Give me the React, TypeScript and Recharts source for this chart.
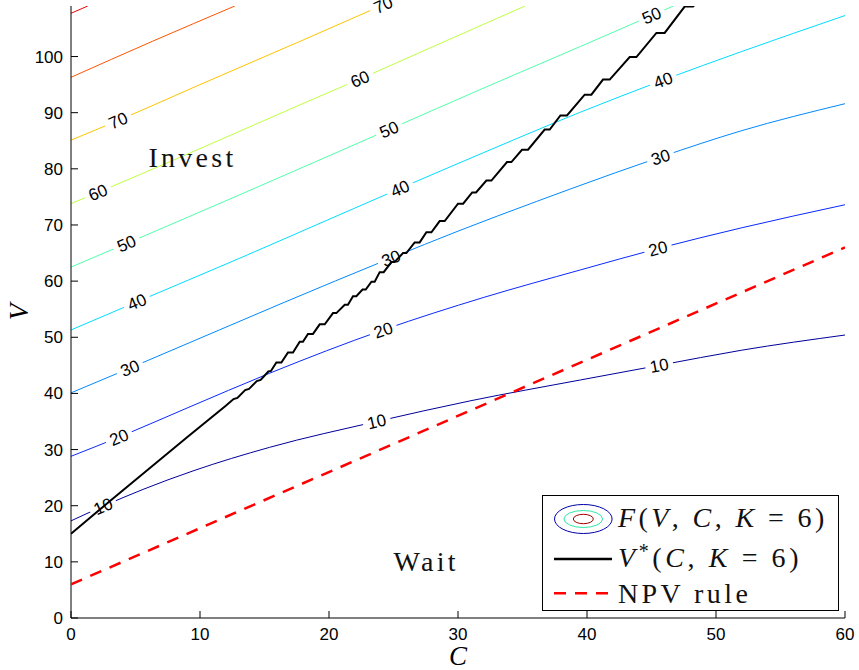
import React from 'react';
import { LineChart, Line, XAxis, YAxis, ReferenceDot, Legend } from 'recharts';

// ---------- data ----------
const C_TICKS = [0, 10, 20, 30, 40, 50, 60];
const V_TICKS = [0, 10, 20, 30, 40, 50, 60, 70, 80, 90, 100];
const X_MAX = 60;
const Y_MAX = 109;

const F10 = [
  { c: 0, v: 17.3 }, { c: 2.48, v: 19.9 }, { c: 5.58, v: 22.9 }, { c: 9.46, v: 26.2 },
  { c: 15.4, v: 30.4 }, { c: 23.7, v: 35.0 }, { c: 31, v: 38.7 }, { c: 39.5, v: 42.4 },
  { c: 45.6, v: 45.0 }, { c: 52, v: 47.7 }, { c: 60, v: 50.4 },
];
const F20 = [
  { c: 0, v: 28.8 }, { c: 3.71, v: 32.2 }, { c: 9, v: 37.4 }, { c: 15.4, v: 43.6 },
  { c: 24.2, v: 51.3 }, { c: 32, v: 57.1 }, { c: 39.5, v: 62.0 }, { c: 45.5, v: 65.8 },
  { c: 52, v: 69.5 }, { c: 60, v: 73.6 },
];
const F30 = [
  { c: 0, v: 40.1 }, { c: 4.56, v: 44.5 }, { c: 11.5, v: 51.3 }, { c: 16.2, v: 55.9 },
  { c: 24.8, v: 64.1 }, { c: 30, v: 68.9 }, { c: 36.1, v: 74.2 }, { c: 38.7, v: 76.4 },
  { c: 45.7, v: 82.1 }, { c: 52, v: 86.8 }, { c: 60, v: 91.6 },
];
const F40 = [
  { c: 0, v: 51.3 }, { c: 5.1, v: 56.3 }, { c: 13.1, v: 64.1 }, { c: 19.9, v: 70.9 },
  { c: 25.5, v: 76.5 }, { c: 32, v: 82.9 }, { c: 39.5, v: 90.1 }, { c: 45.9, v: 95.8 },
  { c: 52, v: 100.9 }, { c: 60, v: 107.3 },
];
const F50 = [
  { c: 0, v: 62.5 }, { c: 4.3, v: 66.7 }, { c: 13.1, v: 75.4 }, { c: 24.65, v: 87.0 },
  { c: 32, v: 94.4 }, { c: 39.5, v: 101.8 }, { c: 45.0, v: 107.3 }, { c: 46.7, v: 109.0 },
];
const F60 = [
  { c: 0, v: 73.8 }, { c: 2.09, v: 75.8 }, { c: 10, v: 83.6 }, { c: 17.75, v: 91.4 },
  { c: 22.4, v: 96.0 }, { c: 27.8, v: 101.5 }, { c: 35.2, v: 109.0 },
];
const F70 = [
  { c: 0, v: 85.1 }, { c: 3.65, v: 88.6 }, { c: 10, v: 95.0 }, { c: 17.75, v: 102.7 },
  { c: 24.0, v: 109.0 },
];
const F80 = [{ c: 0, v: 96.3 }, { c: 6.3, v: 102.7 }, { c: 12.7, v: 109.0 }];
const F90 = [{ c: 0, v: 107.7 }, { c: 1.3, v: 109.0 }];

const CONTOURS = [
  { level: 10, pts: F10 }, { level: 20, pts: F20 }, { level: 30, pts: F30 },
  { level: 40, pts: F40 }, { level: 50, pts: F50 }, { level: 60, pts: F60 },
  { level: 70, pts: F70 }, { level: 80, pts: F80 }, { level: 90, pts: F90 },
];

const CONTOUR_LABELS = [
  { level: 10, c: 2.48, v: 19.9 }, { level: 10, c: 23.7, v: 35.0 }, { level: 10, c: 45.6, v: 45.0 },
  { level: 20, c: 3.71, v: 32.2 }, { level: 20, c: 24.2, v: 51.3 }, { level: 20, c: 45.5, v: 65.8 },
  { level: 30, c: 4.56, v: 44.5 }, { level: 30, c: 24.8, v: 64.1 }, { level: 30, c: 45.7, v: 82.1 },
  { level: 40, c: 5.1, v: 56.3 }, { level: 40, c: 25.5, v: 76.5 }, { level: 40, c: 45.9, v: 95.8 },
  { level: 50, c: 4.3, v: 66.7 }, { level: 50, c: 24.65, v: 87.0 }, { level: 50, c: 45.0, v: 107.3 },
  { level: 60, c: 2.09, v: 75.8 }, { level: 60, c: 22.4, v: 96.0 },
  { level: 70, c: 3.65, v: 88.6 }, { level: 70, c: 24.2, v: 109.2 },
];

const VSTAR = [
  { c: 0, v: 15.0 }, { c: 3.0, v: 20.8 }, { c: 6.0, v: 26.5 }, { c: 9.0, v: 32.2 },
  { c: 12.0, v: 37.8 }, { c: 12.6, v: 39.0 }, { c: 12.9, v: 39.2 }, { c: 13.5, v: 40.6 },
  { c: 13.8, v: 40.8 }, { c: 14.4, v: 42.2 }, { c: 14.7, v: 42.4 }, { c: 15.3, v: 43.9 },
  { c: 15.5, v: 44.0 },
  { c: 15.92, v: 45.5 }, { c: 16.31, v: 45.5 }, { c: 16.82, v: 47.3 }, { c: 17.21, v: 47.3 },
  { c: 17.73, v: 49.2 }, { c: 17.98, v: 49.2 }, { c: 18.37, v: 50.6 }, { c: 18.76, v: 50.6 },
  { c: 19.28, v: 52.3 }, { c: 19.67, v: 52.3 }, { c: 20.31, v: 54.3 }, { c: 20.57, v: 54.3 },
  { c: 21.22, v: 55.8 }, { c: 21.47, v: 55.8 }, { c: 21.86, v: 57.3 }, { c: 22.12, v: 57.3 },
  { c: 22.6, v: 58.5 }, { c: 22.85, v: 58.5 }, { c: 23.29, v: 59.9 }, { c: 23.54, v: 59.9 },
  { c: 23.93, v: 61.6 }, { c: 24.24, v: 61.6 }, { c: 24.84, v: 63.4 }, { c: 25.09, v: 63.4 },
  { c: 25.74, v: 65.0 }, { c: 26.0, v: 65.0 }, { c: 26.64, v: 66.9 }, { c: 27.03, v: 66.9 },
  { c: 27.55, v: 68.7 }, { c: 27.94, v: 68.7 }, { c: 28.58, v: 70.7 }, { c: 28.97, v: 70.7 },
  { c: 30.0, v: 73.8 }, { c: 30.4, v: 73.8 }, { c: 31.1, v: 75.8 }, { c: 31.4, v: 75.8 },
  { c: 32.2, v: 77.9 }, { c: 32.59, v: 77.9 }, { c: 33.8, v: 81.2 }, { c: 34.14, v: 81.2 },
  { c: 34.96, v: 83.4 }, { c: 35.43, v: 83.4 }, { c: 36.72, v: 87.0 }, { c: 37.11, v: 87.0 },
  { c: 37.94, v: 89.5 }, { c: 38.45, v: 89.5 }, { c: 39.82, v: 93.2 }, { c: 40.34, v: 93.2 },
  { c: 41.24, v: 95.9 }, { c: 41.76, v: 95.9 }, { c: 43.31, v: 99.9 }, { c: 43.83, v: 99.9 },
  { c: 45.38, v: 104.2 }, { c: 46.02, v: 104.2 }, { c: 47.57, v: 108.9 }, { c: 48.22, v: 108.9 },
  { c: 48.5, v: 109.6 },
];

const NPV = [{ c: 0, v: 6 }, { c: 60, v: 66 }];

const REGION_TEXT = [
  { text: 'Invest', c: 6, v: 82 },
  { text: 'Wait', c: 25, v: 10 },
];

// ---------- styles ----------
const CHART_W = 859;
const CHART_H = 670;
const MARGIN = { top: 6, right: 14, bottom: 0, left: 0 };
const Y_AXIS_W = 71;
const X_AXIS_H = 52;
const PLOT_W = CHART_W - MARGIN.left - MARGIN.right - Y_AXIS_W;
const PLOT_H = CHART_H - MARGIN.top - MARGIN.bottom - X_AXIS_H;

const LEVEL_COLORS: Record<number, string> = {
  10: '#00009a', 20: '#0a28ff', 30: '#0088ff', 40: '#00dcff', 50: '#50ffaa',
  60: '#bfff40', 70: '#ffc400', 80: '#ff5400', 90: '#f00000',
};

const SANS = "'Liberation Sans', Arial, Helvetica, sans-serif";
const SERIF = "'Liberation Serif', 'Times New Roman', serif";
const TICK_LEN = 7;

function contourAt(pts: { c: number; v: number }[], c: number) {
  let i = 0;
  while (i < pts.length - 2 && c > pts[i + 1].c) i++;
  const a = pts[i], b = pts[i + 1];
  return a.v + ((b.v - a.v) * (c - a.c)) / (b.c - a.c);
}

function labelAngle(level: number, c: number) {
  const pts = CONTOURS.find((k) => k.level === level)!.pts;
  const slope = (contourAt(pts, c + 0.8) - contourAt(pts, c - 0.8)) / 1.6;
  const px = slope * (PLOT_H / Y_MAX) / (PLOT_W / X_MAX);
  return (-Math.atan(px) * 180) / Math.PI;
}

const BottomTick = (p: any) => (
  <g>
    <line x1={p.x} y1={p.y} x2={p.x} y2={p.y - TICK_LEN} stroke="#000" strokeWidth={1} />
    <text x={p.x} y={p.y + 22} textAnchor="middle" fontFamily={SANS} fontSize={17} fill="#000">
      {p.payload.value}
    </text>
  </g>
);
const LeftTick = (p: any) => (
  <g>
    <line x1={p.x} y1={p.y} x2={p.x + TICK_LEN} y2={p.y} stroke="#000" strokeWidth={1} />
    <text x={p.x - 8} y={p.y + 6} textAnchor="end" fontFamily={SANS} fontSize={17} fill="#000">
      {p.payload.value}
    </text>
  </g>
);
const TopTick = (p: any) => (
  <line x1={p.x} y1={p.y} x2={p.x} y2={p.y + TICK_LEN} stroke="#000" strokeWidth={1} />
);
const RightTick = (p: any) => (
  <line x1={p.x} y1={p.y} x2={p.x - TICK_LEN} y2={p.y} stroke="#000" strokeWidth={1} />
);

const XLabel = (props: any) => {
  const vb = props.viewBox || { x: 71, y: 618, width: 774 };
  return (
    <text x={vb.x + vb.width / 2} y={vb.y + 47} textAnchor="middle" fontFamily={SERIF}
      fontStyle="italic" fontSize={27} fill="#000">C</text>
  );
};
const YLabel = (props: any) => {
  const vb = props.viewBox || { x: 0, y: 6, height: 612 };
  const cx = 28;
  const cy = vb.y + vb.height / 2;
  return (
    <text x={cx} y={cy} transform={`rotate(-90, ${cx}, ${cy})`} textAnchor="middle"
      fontFamily={SERIF} fontStyle="italic" fontSize={27} fill="#000">V</text>
  );
};

const makeLabelShape = (level: number, c: number) => (p: any) => {
  const ang = labelAngle(level, c);
  return (
    <g transform={`translate(${p.cx},${p.cy}) rotate(${ang})`}>
      <rect x={-14} y={-7} width={28} height={14} fill="#fff" />
      <text x={0} y={6} textAnchor="middle" fontFamily={SANS} fontSize={17} fill="#000">
        {level}
      </text>
    </g>
  );
};

const makeRegionShape = (text: string) => (p: any) => (
  <text x={p.cx} y={p.cy + 9} textAnchor="start" fontFamily={SERIF} fontSize={28}
    letterSpacing={3.3} fill="#111">{text}</text>
);

const it = (s: string) => <tspan fontStyle="italic">{s}</tspan>;

const LegendBox = () => (
  <svg width={298} height={117} style={{ display: 'block' }}>
    <rect x={0.5} y={0.5} width={296} height={115} fill="#fff" stroke="#000" strokeWidth={1} />
    <ellipse cx={41.3} cy={24} rx={28.8} ry={14.5} fill="none" stroke="#0000a8" strokeWidth={1} />
    <ellipse cx={41.3} cy={24} rx={19.3} ry={8.5} fill="none" stroke="#30e8a8" strokeWidth={1} />
    <ellipse cx={41.3} cy={24} rx={10} ry={4.7} fill="none" stroke="#a00000" strokeWidth={1} />
    <text x={76} y={32} fontFamily={SERIF} fontSize={28} letterSpacing={3.4} fill="#111">
      {it('F')}{'('}{it('V')}{', '}{it('C')}{', '}{it('K')}{' = 6)'}
    </text>
    <line x1={12} y1={64} x2={70} y2={64} stroke="#000" strokeWidth={2.5} />
    <text x={76} y={72} fontFamily={SERIF} fontSize={28} letterSpacing={3.6} fill="#111">
      {it('V')}<tspan dy={-9} fontSize={20}>*</tspan><tspan dy={9}>{'('}</tspan>{it('C')}{', '}{it('K')}{' = 6)'}
    </text>
    <line x1={12} y1={98.3} x2={66} y2={98.3} stroke="#ff0000" strokeWidth={2.5} strokeDasharray="12 9" />
    <text x={76} y={108} fontFamily={SERIF} fontSize={28} letterSpacing={3.4} fill="#111">NPV rule</text>
  </svg>
);

export default function App() {
  return (
    <div style={{ position: 'absolute', left: 0, top: 0, width: CHART_W, height: CHART_H, background: '#fff' }}>
      <LineChart width={CHART_W} height={CHART_H} margin={MARGIN}>
        <XAxis dataKey="c" type="number" domain={[0, X_MAX]} ticks={C_TICKS} allowDataOverflow
          height={X_AXIS_H} tickSize={0} tickMargin={0} tickLine={false} tick={BottomTick}
          axisLine={{ stroke: '#000', strokeWidth: 1 }} interval={0} label={<XLabel />} />
        <XAxis xAxisId="top" orientation="top" dataKey="c" type="number" domain={[0, X_MAX]}
          ticks={C_TICKS} allowDataOverflow height={0} tickSize={0} tickMargin={0} tickLine={false}
          tick={TopTick} axisLine={{ stroke: '#000', strokeWidth: 1 }} interval={0} />
        <YAxis type="number" domain={[0, Y_MAX]} ticks={V_TICKS} allowDataOverflow width={Y_AXIS_W}
          tickSize={0} tickMargin={0} tickLine={false} tick={LeftTick}
          axisLine={{ stroke: '#000', strokeWidth: 1 }} interval={0} label={<YLabel />} />
        <YAxis yAxisId="right" orientation="right" type="number" domain={[0, Y_MAX]} ticks={V_TICKS}
          allowDataOverflow width={0} tickSize={0} tickMargin={0} tickLine={false} tick={RightTick}
          axisLine={{ stroke: '#000', strokeWidth: 1 }} interval={0} />

        {CONTOURS.map((k) => (
          <Line key={`f${k.level}`} data={k.pts} dataKey="v" type="monotoneX"
            stroke={LEVEL_COLORS[k.level]} strokeWidth={1} dot={false} activeDot={false}
            isAnimationActive={false} legendType="none" />
        ))}

        {CONTOUR_LABELS.map((l, i) => (
          <ReferenceDot key={`lab${i}`} x={l.c} y={l.v} r={0} ifOverflow="visible"
            shape={makeLabelShape(l.level, l.c)} zIndex={450} />
        ))}

        {REGION_TEXT.map((t) => (
          <ReferenceDot key={t.text} x={t.c} y={t.v} r={0} ifOverflow="visible"
            shape={makeRegionShape(t.text)} zIndex={450} />
        ))}

        <Line data={VSTAR} dataKey="v" type="linear" stroke="#000" strokeWidth={2} dot={false}
          activeDot={false} isAnimationActive={false} zIndex={1500} legendType="none" />
        <Line data={NPV} dataKey="v" type="linear" stroke="#ff0000" strokeWidth={2.5}
          strokeDasharray="12 9" dot={false} activeDot={false} isAnimationActive={false}
          zIndex={1500} legendType="none" />

        <Legend content={<LegendBox />} layout="vertical" align="center" verticalAlign="middle"
          wrapperStyle={{ left: 542, top: 495, width: 298, height: 117 }} />
      </LineChart>
    </div>
  );
}
